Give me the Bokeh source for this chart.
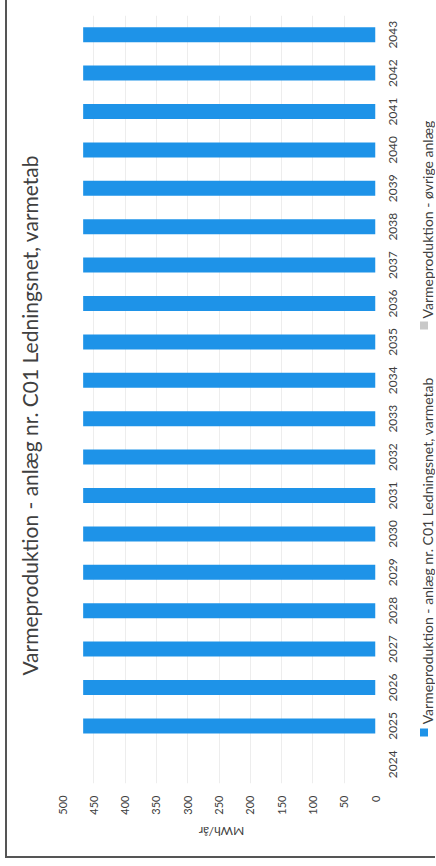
import math
from bokeh.plotting import figure
from bokeh.layouts import row, column
from bokeh.models import Range1d, ColumnDataSource
from bokeh.core.properties import value
from bokeh.embed import file_html
from bokeh.resources import INLINE

# ---- data ----
years = list(range(2024, 2044))
year_labels = [str(y) for y in years]
series_c01 = [0] + [467] * 19
series_other = [0] * 20
x_ticks = list(range(0, 501, 50))
title_text = "Varmeproduktion - anlæg nr. C01 Ledningsnet, varmetab"
legend_labels = ["Varmeproduktion - anlæg nr. C01 Ledningsnet, varmetab",
                 "Varmeproduktion - øvrige anlæg"]
axis_title = "MWh/år"
colors = ["#1E93E8", "#C9C9C9"]

FONT = "Lato"
TXT = "#404040"
HP = 820
BT, BB = 15, 37

source = ColumnDataSource(dict(year=years, label=year_labels, c01=series_c01, other=series_other))
xr = Range1d(500, 0)
yr = Range1d(2023.5, 2043.5)


def strip(width, height, x_range, y_range, top=BT, bottom=BB):
    f = figure(width=width, height=height, output_backend="svg", toolbar_location=None,
               x_range=x_range, y_range=y_range,
               min_border_left=0, min_border_right=0, min_border_top=top, min_border_bottom=bottom)
    f.axis.visible = False
    f.grid.visible = False
    f.outline_line_color = None
    return f


# ---- title strip (title reads bottom-to-top, as in the rotated scan) ----
tstrip = strip(47, HP, Range1d(0, 47), yr)
tstrip.text(x=[22], y=[2026.31], text=[title_text], angle=math.pi / 2,
            text_align="left", text_baseline="middle", text_font=value(FONT),
            text_font_size="21px", text_color=TXT)

# ---- main chart (value axis below) ----
p = figure(width=329, height=HP, output_backend="svg", toolbar_location=None,
           x_range=xr, y_range=yr,
           min_border_left=8, min_border_right=8, min_border_top=BT, min_border_bottom=BB)
p.hbar_stack(["c01", "other"], y="year", height=0.39, color=colors, line_color=None,
             source=source)
p.outline_line_color = None
p.yaxis.visible = False
p.xgrid.ticker = x_ticks
p.xgrid.grid_line_color = "#EDEDED"
p.ygrid.grid_line_color = None

xa = p.xaxis[0]
xa.ticker = x_ticks
xa.major_label_orientation = math.pi / 2
xa.axis_line_color = None
xa.major_tick_line_color = None
xa.minor_tick_line_color = None
xa.major_tick_out = 0
xa.major_tick_in = 0
xa.major_label_standoff = 12
xa.major_label_text_font = FONT
xa.major_label_text_font_size = "11px"
xa.major_label_text_color = TXT

# ---- category labels + legend column (shares the year scale) ----
side = strip(52, HP, Range1d(0, 52), yr)
side.text(x=9.5, y="year", text="label", source=source, angle=math.pi / 2,
          text_align="center", text_baseline="middle", text_font=value(FONT),
          text_font_size="12px", text_color=TXT)

leg_sq_y = [2024.83, 2035.43]
leg_tx_y = [2025.04, 2035.61]
side.scatter(x=[40.5, 40.5], y=leg_sq_y, marker="square", size=8, color=colors, line_color=None)
side.text(x=[44, 44], y=leg_tx_y, text=legend_labels, angle=math.pi / 2,
          text_align="left", text_baseline="middle", text_font=value(FONT),
          text_font_size="14px", text_color=TXT)

# ---- value-axis title strip (upside down, as in the rotated scan) ----
bot = figure(width=376, height=36, output_backend="svg", toolbar_location=None,
             x_range=xr, y_range=Range1d(0, 36),
             min_border_left=55, min_border_right=8, min_border_top=0, min_border_bottom=0)
bot.axis.visible = False
bot.grid.visible = False
bot.outline_line_color = None
bot.text(x=[246], y=[25], text=[axis_title], angle=math.pi,
         text_align="center", text_baseline="middle", text_font=value(FONT),
         text_font_size="12px", text_color=TXT)

layout = column(row(tstrip, p, side), bot)
layout.styles = {"border-left": "2px solid #555", "border-bottom": "2px solid #555",
                 "margin-left": "5px"}

open("out.html", "w").write(file_html(layout, INLINE))
